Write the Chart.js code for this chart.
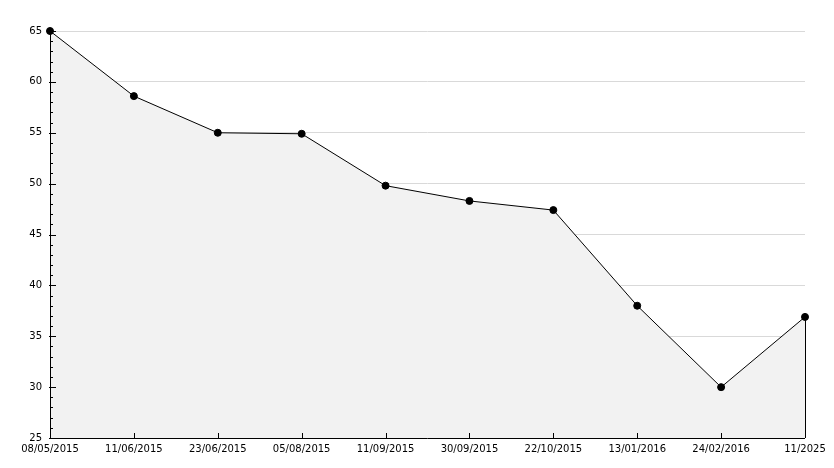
<!DOCTYPE html>
<html>
<head>
<meta charset="utf-8">
<script src="https://cdn.jsdelivr.net/npm/chart.js@4"></script>
<style>
  html, body { margin: 0; padding: 0; background: #fff; }
  #wrap { width: 834px; height: 468px; }
</style>
</head>
<body>
<div id="wrap"><canvas id="chart" width="834" height="468"></canvas></div>
<script>
const dates = ['08/05/2015', '11/06/2015', '23/06/2015', '05/08/2015', '11/09/2015',
    '30/09/2015', '22/10/2015', '13/01/2016', '24/02/2016', '11/2025'];
const values = [65, 58.6, 55, 54.9, 49.8, 48.3, 47.4, 38, 30, 36.9];
const yTicks = [25, 30, 35, 40, 45, 50, 55, 60, 65];

// draws tick marks (inside the plot) and the axis lines on top of the fill
const axisTicks = {
    id: 'axisTicks',
    afterDatasetsDraw(chart) {
        const { ctx, chartArea: area, scales: { x, y } } = chart;
        ctx.save();
        ctx.strokeStyle = '#000';
        ctx.lineWidth = 1;
        ctx.beginPath();
        for (let v = yTicks[0]; v <= yTicks[yTicks.length - 1]; v++) {
            const py = Math.round(y.getPixelForValue(v)) + 0.5;
            const major = yTicks.includes(v);
            ctx.moveTo(area.left - (major ? 1 : 0), py);
            ctx.lineTo(area.left + (major ? 6 : 3), py);
        }
        dates.forEach((d, i) => {
            const px = Math.round(x.getPixelForValue(i)) + 0.5;
            ctx.moveTo(px, area.bottom);
            ctx.lineTo(px, area.bottom - 5);
        });
        ctx.moveTo(Math.round(area.left) + 0.5, area.top);
        ctx.lineTo(Math.round(area.left) + 0.5, area.bottom + 0.5);
        ctx.moveTo(area.left, Math.round(area.bottom) + 0.5);
        ctx.lineTo(area.right, Math.round(area.bottom) + 0.5);
        // right edge of the filled area
        const last = values.length - 1;
        const rx = Math.round(x.getPixelForValue(last)) + 0.5;
        ctx.moveTo(rx, y.getPixelForValue(values[last]));
        ctx.lineTo(rx, area.bottom);
        ctx.stroke();
        ctx.restore();
    }
};

Chart.defaults.font.family = 'DejaVu Sans';
Chart.defaults.font.size = 10;
Chart.defaults.color = '#000';

new Chart(document.getElementById('chart'), {
    type: 'line',
    data: {
        labels: dates,
        datasets: [{
            data: values,
            borderColor: '#000',
            borderWidth: 1,
            backgroundColor: '#f2f2f2',
            fill: 'start',
            tension: 0,
            clip: false,
            pointRadius: 3.5,
            pointBackgroundColor: '#000',
            pointBorderColor: '#000',
            pointBorderWidth: 1
        }]
    },
    options: {
        responsive: false,
        animation: false,
        layout: { padding: { top: 31, right: 29, left: 0, bottom: 0 } },
        plugins: { legend: { display: false }, tooltip: { enabled: false } },
        scales: {
            x: {
                offset: false,
                grid: { display: false, drawTicks: false },
                border: { display: false },
                ticks: { autoSkip: false, maxRotation: 0, padding: 5 },
                afterFit: s => { s.height = 30; }
            },
            y: {
                min: 25,
                max: 65,
                afterBuildTicks: s => { s.ticks = yTicks.map(v => ({ value: v })); },
                grid: { color: '#d9d9d9', drawTicks: false },
                border: { display: false },
                ticks: { padding: 8 },
                afterFit: s => { s.width = 50; }
            }
        }
    },
    plugins: [axisTicks]
});
</script>
</body>
</html>
